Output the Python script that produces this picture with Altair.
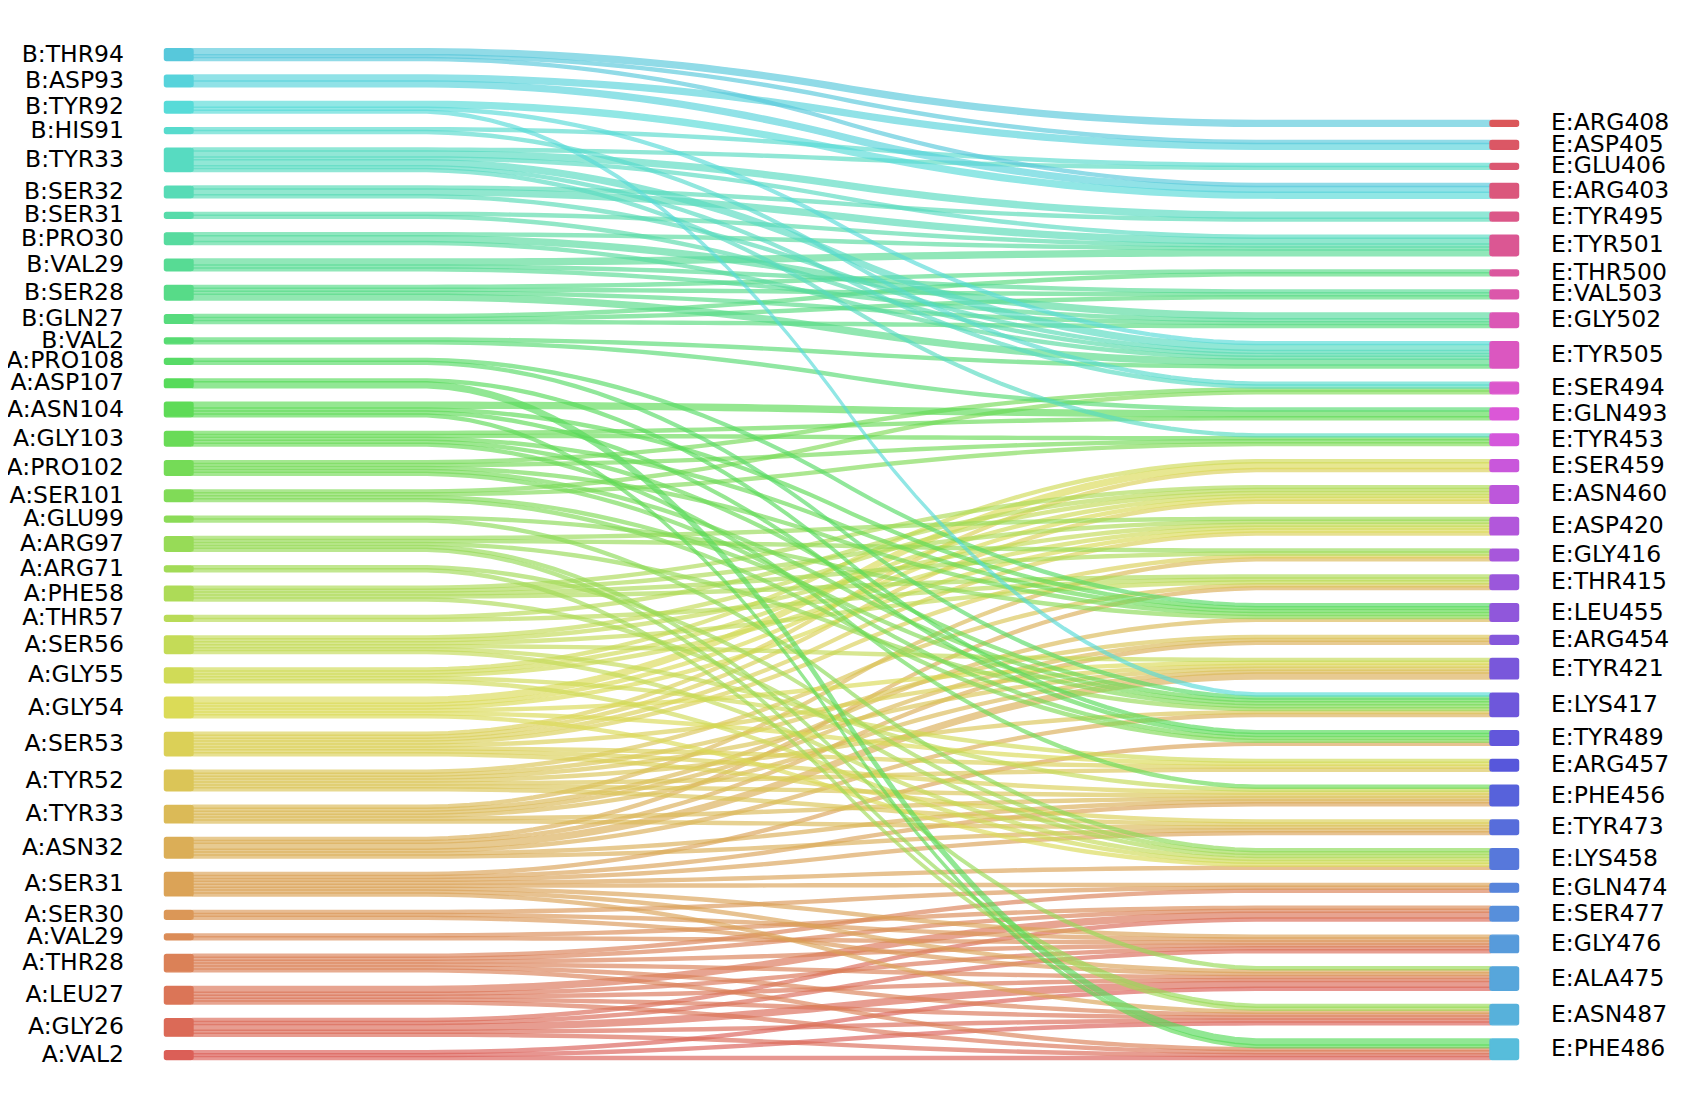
import colorsys
import numpy as np
import pandas as pd
import altair as alt

# ---------------- data ----------------
left_nodes = ["B:THR94", "B:ASP93", "B:TYR92", "B:HIS91", "B:TYR33", "B:SER32", "B:SER31",
              "B:PRO30", "B:VAL29", "B:SER28", "B:GLN27", "B:VAL2", "A:PRO108", "A:ASP107",
              "A:ASN104", "A:GLY103", "A:PRO102", "A:SER101", "A:GLU99", "A:ARG97", "A:ARG71",
              "A:PHE58", "A:THR57", "A:SER56", "A:GLY55", "A:GLY54", "A:SER53", "A:TYR52",
              "A:TYR33", "A:ASN32", "A:SER31", "A:SER30", "A:VAL29", "A:THR28", "A:LEU27",
              "A:GLY26", "A:VAL2"]

right_nodes = ["E:ARG408", "E:ASP405", "E:GLU406", "E:ARG403", "E:TYR495", "E:TYR501", "E:THR500",
               "E:VAL503", "E:GLY502", "E:TYR505", "E:SER494", "E:GLN493", "E:TYR453", "E:SER459",
               "E:ASN460", "E:ASP420", "E:GLY416", "E:THR415", "E:LEU455", "E:ARG454", "E:TYR421",
               "E:LYS417", "E:TYR489", "E:ARG457", "E:PHE456", "E:TYR473", "E:LYS458", "E:GLN474",
               "E:SER477", "E:GLY476", "E:ALA475", "E:ASN487", "E:PHE486"]

link_source = (
    ["B:THR94"] * 3 + ["B:ASP93"] * 2 + ["B:TYR92"] * 3 + ["B:HIS91"] * 2 + ["B:TYR33"] * 6 +
    ["B:SER32"] * 3 + ["B:SER31"] * 2 + ["B:PRO30"] * 3 + ["B:VAL29"] * 3 + ["B:SER28"] * 4 +
    ["B:GLN27"] * 3 + ["B:VAL2"] * 2 + ["A:PRO108"] * 2 + ["A:ASP107"] * 2 + ["A:ASN104"] * 4 +
    ["A:GLY103"] * 5 + ["A:PRO102"] * 5 + ["A:SER101"] * 4 + ["A:GLU99"] * 2 + ["A:ARG97"] * 5 +
    ["A:ARG71"] * 2 + ["A:PHE58"] * 5 + ["A:THR57"] * 2 + ["A:SER56"] * 6 + ["A:GLY55"] * 5 +
    ["A:GLY54"] * 6 + ["A:SER53"] * 8 + ["A:TYR52"] * 7 + ["A:TYR33"] * 6 + ["A:ASN32"] * 6 +
    ["A:SER31"] * 8 + ["A:SER30"] * 3 + ["A:VAL29"] * 2 + ["A:THR28"] * 6 + ["A:LEU27"] * 5 +
    ["A:GLY26"] * 5 + ["A:VAL2"] * 3
)

link_target = [
    "E:ARG408", "E:ASP405", "E:ARG403",
    "E:ASP405", "E:ARG403",
    "E:ARG403", "E:TYR505", "E:LYS417",
    "E:GLU406", "E:SER494",
    "E:GLU406", "E:TYR495", "E:TYR501", "E:TYR505", "E:SER494", "E:TYR453",
    "E:TYR495", "E:TYR501", "E:TYR505",
    "E:TYR501", "E:TYR505",
    "E:TYR501", "E:GLY502", "E:TYR505",
    "E:TYR501", "E:VAL503", "E:GLY502",
    "E:THR500", "E:VAL503", "E:GLY502", "E:TYR505",
    "E:THR500", "E:VAL503", "E:GLY502",
    "E:TYR505", "E:GLN493",
    "E:LEU455", "E:LYS417",
    "E:TYR489", "E:PHE486",
    "E:GLN493", "E:LEU455", "E:TYR489", "E:PHE486",
    "E:GLN493", "E:TYR453", "E:LEU455", "E:LYS417", "E:PHE456",
    "E:SER494", "E:TYR453", "E:LEU455", "E:LYS417", "E:TYR489",
    "E:SER494", "E:TYR453", "E:LYS417", "E:TYR489",
    "E:LEU455", "E:LYS458",
    "E:ASP420", "E:GLY416", "E:LYS417", "E:ALA475", "E:ASN487",
    "E:LYS458", "E:ASN487",
    "E:ASN460", "E:ASP420", "E:GLY416", "E:THR415", "E:LYS458",
    "E:ASN460", "E:THR415",
    "E:ASN460", "E:ASP420", "E:THR415", "E:TYR421", "E:PHE456", "E:LYS458",
    "E:SER459", "E:ASN460", "E:ASP420", "E:ARG457", "E:LYS458",
    "E:SER459", "E:ASN460", "E:ASP420", "E:TYR421", "E:ARG457", "E:LYS458",
    "E:SER459", "E:ASN460", "E:ASP420", "E:GLY416", "E:TYR421", "E:ARG457", "E:PHE456", "E:TYR473",
    "E:THR415", "E:ARG454", "E:TYR421", "E:LYS417", "E:ARG457", "E:PHE456", "E:TYR473",
    "E:GLY416", "E:LEU455", "E:ARG454", "E:TYR421", "E:PHE456", "E:TYR473",
    "E:THR415", "E:ARG454", "E:TYR421", "E:LYS417", "E:PHE456", "E:TYR473",
    "E:TYR489", "E:PHE456", "E:TYR473", "E:LYS458", "E:GLN474", "E:GLY476", "E:ALA475", "E:ASN487",
    "E:GLN474", "E:GLY476", "E:ALA475",
    "E:SER477", "E:GLY476",
    "E:GLN474", "E:SER477", "E:GLY476", "E:ALA475", "E:ASN487", "E:PHE486",
    "E:SER477", "E:GLY476", "E:ALA475", "E:ASN487", "E:PHE486",
    "E:SER477", "E:GLY476", "E:ALA475", "E:ASN487", "E:PHE486",
    "E:ALA475", "E:ASN487", "E:PHE486",
]

link_value = [
    2, 1, 1,
    2, 2,
    2, 1, 1,
    1, 1,
    1, 2, 1, 2, 1, 1,
    1, 2, 1,
    1, 1,
    1, 2, 1,
    2, 1, 1,
    1, 1, 1, 2,
    1, 1, 1,
    1, 1,
    1, 1,
    1, 2,
    2, 1, 1, 1,
    1, 1, 1, 1, 1,
    1, 1, 1, 1, 1,
    1, 1, 1, 1,
    1, 1,
    1, 1, 1, 1, 1,
    1, 1,
    1, 1, 1, 1, 1,
    1, 1,
    1, 1, 1, 1, 1, 1,
    1, 1, 1, 1, 1,
    2, 1, 1, 1, 1, 1,
    1, 1, 1, 1, 1, 1, 1, 1,
    1, 1, 1, 1, 1, 1, 1,
    1, 1, 1, 1, 1, 1,
    1, 1, 2, 1, 1, 1,
    1, 1, 1, 1, 1, 1, 1, 1,
    1, 1, 1,
    1, 1,
    1, 1, 1, 1, 1, 1,
    2, 1, 1, 1, 1,
    1, 1, 2, 1, 1,
    1, 1, 1,
]

# ---------------- layout (pySankey-like) ----------------
W, H = 1665, 1088
OFF = 8.0                               # page margin: plot area starts at page px 8
X0_PX, X1_PX = 193.0, 1490.0            # link start / end (page px)
BOTTOM_PX, LTOP_PX, RTOP_PX = 1059.5, 48.8, 120.5
BAR_W = 2.2                             # in link-x units
LEFT_GAP = 5.0

lb = list(reversed(left_nodes))         # bottom -> top
rb = list(reversed(right_nodes))

# hls palette (seaborn style) over all nodes
n_all = len(lb) + len(rb)
pal = {}
for i, name in enumerate(lb + rb):
    h = (i / n_all + 0.01) % 1.0
    r, g, b = colorsys.hls_to_rgb(h, 0.6, 0.65)
    pal[name] = "#%02x%02x%02x" % (round(r * 255), round(g * 255), round(b * 255))

lw = {n: 0 for n in lb}
rw = {n: 0 for n in rb}
agg = {}
for s, t, v in zip(link_source, link_target, link_value):
    lw[s] += v
    rw[t] += v
    agg[(s, t)] = agg.get((s, t), 0) + v
total = sum(lw.values())

left_span = total + LEFT_GAP * (len(lb) - 1)
u = (BOTTOM_PX - LTOP_PX) / left_span            # px per unit
right_gap = ((BOTTOM_PX - RTOP_PX) / u - total) / (len(rb) - 1)

lpos, rpos = {}, {}
b0 = 0.0
for n in lb:
    lpos[n] = (b0, b0 + lw[n])
    b0 += lw[n] + LEFT_GAP
b0 = 0.0
for n in rb:
    rpos[n] = (b0, b0 + rw[n])
    b0 += rw[n] + right_gap

kx = (X1_PX - X0_PX) / 100.0
xdom = [(OFF - X0_PX) / kx, (OFF + W - X0_PX) / kx]
ydom = [(BOTTOM_PX - (OFF + H)) / u, (BOTTOM_PX - OFF) / u]


def smooth(a, b):
    ys = np.array([a] * 50 + [b] * 50, dtype=float)
    k = 0.05 * np.ones(20)
    ys = np.convolve(ys, k, mode="valid")
    ys = np.convolve(ys, k, mode="valid")
    return ys


rows = []
lcur = {n: lpos[n][0] for n in lb}
rcur = {n: rpos[n][0] for n in rb}
lid = 0
for s in lb:
    for t in rb:
        v = agg.get((s, t), 0)
        if v <= 0:
            continue
        yd = smooth(lcur[s], rcur[t])
        yu = smooth(lcur[s] + v, rcur[t] + v)
        xs = np.linspace(0, 100, len(yd))
        for xx, a, b in zip(xs, yd, yu):
            rows.append({"link": "k%03d" % lid, "x": float(xx), "y": float(a), "y2": float(b),
                         "color": pal[s]})
        lcur[s] += v
        rcur[t] += v
        lid += 1
links_df = pd.DataFrame(rows)

bars = []
for n in lb:
    bars.append({"x": -BAR_W, "x2": 0.0, "y": lpos[n][0], "y2": lpos[n][1], "color": pal[n]})
for n in rb:
    bars.append({"x": 100.0, "x2": 100.0 + BAR_W, "y": rpos[n][0], "y2": rpos[n][1], "color": pal[n]})
bars_df = pd.DataFrame(bars)

ltxt = pd.DataFrame({"x": [(124.0 - X0_PX) / kx] * len(lb),
                     "y": [(lpos[n][0] + lpos[n][1]) / 2 for n in lb], "label": lb})
rtxt = pd.DataFrame({"x": [(1551.0 - X0_PX) / kx] * len(rb),
                     "y": [(rpos[n][0] + rpos[n][1]) / 2 for n in rb], "label": rb})

xs_ = alt.Scale(domain=xdom, nice=False, zero=False)
ys_ = alt.Scale(domain=ydom, nice=False, zero=False)

links = alt.Chart(links_df).mark_area(opacity=0.65, interpolate="linear", strokeWidth=1.5).encode(
    x=alt.X("x:Q", scale=xs_, axis=None),
    y=alt.Y("y:Q", scale=ys_, axis=None, stack=None),
    y2="y2:Q",
    color=alt.Color("color:N", scale=None),
    stroke=alt.Stroke("color:N", scale=None),
    detail="link:N",
)

nodes = alt.Chart(bars_df).mark_rect(cornerRadius=2, strokeWidth=1.4).encode(
    x=alt.X("x:Q", scale=xs_, axis=None),
    x2="x2:Q",
    y=alt.Y("y:Q", scale=ys_, axis=None),
    y2="y2:Q",
    color=alt.Color("color:N", scale=None),
    stroke=alt.Stroke("color:N", scale=None),
)

FS = 23.5
ltext = alt.Chart(ltxt).mark_text(align="right", baseline="middle", fontSize=FS,
                                  font="DejaVu Sans", color="black").encode(
    x=alt.X("x:Q", scale=xs_, axis=None),
    y=alt.Y("y:Q", scale=ys_, axis=None),
    text="label:N",
)
rtext = alt.Chart(rtxt).mark_text(align="left", baseline="middle", fontSize=FS,
                                  font="DejaVu Sans", color="black").encode(
    x=alt.X("x:Q", scale=xs_, axis=None),
    y=alt.Y("y:Q", scale=ys_, axis=None),
    text="label:N",
)

chart = alt.layer(links, nodes, ltext, rtext).properties(
    width=W, height=H, padding=0,
    autosize=alt.AutoSizeParams(type="none"),
).configure_view(stroke=None)

chart.save("out.html", embed_options={"renderer": "svg", "actions": False})
